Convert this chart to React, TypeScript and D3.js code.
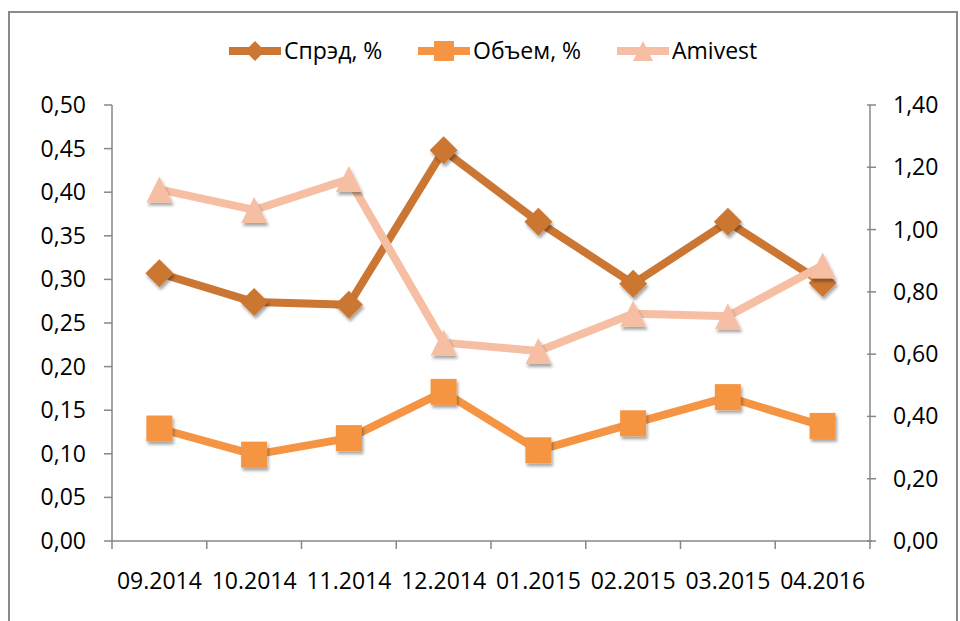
import React, { useEffect, useRef } from 'react'
import * as d3 from 'd3'

const months = ['09.2014', '10.2014', '11.2014', '12.2014', '01.2015', '02.2015', '03.2015', '04.2016']
const spread = [0.307, 0.274, 0.271, 0.448, 0.366, 0.295, 0.366, 0.296]
const volume = [0.129, 0.099, 0.118, 0.171, 0.104, 0.135, 0.165, 0.132]
const amivest = [1.129, 1.063, 1.162, 0.637, 0.61, 0.73, 0.722, 0.885]
const leftTicks = [0, 0.05, 0.1, 0.15, 0.2, 0.25, 0.3, 0.35, 0.4, 0.45, 0.5]
const rightTicks = [0, 0.2, 0.4, 0.6, 0.8, 1.0, 1.2, 1.4]

type Shape = 'diamond' | 'square' | 'triangle'

function markerPath(shape: Shape, s: number): string {
  const h = s / 2
  if (shape === 'diamond') return `M0,${-h}L${h},0L0,${h}L${-h},0Z`
  if (shape === 'square') return `M${-h},${-h}H${h}V${h}H${-h}Z`
  return `M0,${-h}L${h},${h}L${-h},${h}Z`
}

const FONT = '"Open Sans", "Noto Sans", sans-serif'
const FONT_SIZE = '23px'

export default function App() {
  const svgRef = useRef<SVGSVGElement>(null)

  useEffect(() => {
    if (!svgRef.current) return
    const svg = d3.select(svgRef.current)
    svg.selectAll('*').remove()

    const width = 960
    const height = 621
    const left = 112
    const right = 870
    const top = 105
    const bottom = 541
    const axisColor = '#878787'

    const defs = svg.append('defs')
    defs.append('filter')
      .attr('id', 'shadow')
      .attr('x', '-50%').attr('y', '-50%').attr('width', '200%').attr('height', '200%')
      .append('feDropShadow')
      .attr('dx', 1.5).attr('dy', 3).attr('stdDeviation', 1.6)
      .attr('flood-color', '#000').attr('flood-opacity', 0.35)

    // chart border
    svg.append('rect')
      .attr('x', 9).attr('y', 12)
      .attr('width', 948).attr('height', 640)
      .attr('fill', 'white')
      .attr('stroke', '#8a8a8a')
      .attr('stroke-width', 2)

    const x = d3.scaleBand<string>().domain(months).range([left, right])
    const yL = d3.scaleLinear().domain([0, 0.5]).range([bottom, top])
    const yR = d3.scaleLinear().domain([0, 1.4]).range([bottom, top])
    const fmt = (d: number) => d.toFixed(2).replace('.', ',')

    // left axis
    const gL = svg.append('g')
    gL.append('line')
      .attr('x1', left).attr('x2', left).attr('y1', top).attr('y2', bottom)
      .attr('stroke', axisColor).attr('stroke-width', 1.5)
    gL.selectAll('.tk').data(leftTicks).enter().append('line')
      .attr('x1', left - 8).attr('x2', left)
      .attr('y1', d => yL(d)).attr('y2', d => yL(d))
      .attr('stroke', axisColor).attr('stroke-width', 1.5)
    gL.selectAll('text').data(leftTicks).enter().append('text')
      .attr('x', 86).attr('y', d => yL(d))
      .attr('dy', '0.35em')
      .attr('text-anchor', 'end')
      .style('font-family', FONT).style('font-size', FONT_SIZE).attr('fill', '#000')
      .text(d => fmt(d))

    // right axis
    const gR = svg.append('g')
    gR.append('line')
      .attr('x1', right).attr('x2', right).attr('y1', top).attr('y2', bottom)
      .attr('stroke', axisColor).attr('stroke-width', 1.5)
    gR.selectAll('.tk').data(rightTicks).enter().append('line')
      .attr('x1', right - 3).attr('x2', right + 6)
      .attr('y1', d => yR(d)).attr('y2', d => yR(d))
      .attr('stroke', axisColor).attr('stroke-width', 1.5)
    gR.selectAll('text').data(rightTicks).enter().append('text')
      .attr('x', 893).attr('y', d => yR(d))
      .attr('dy', '0.35em')
      .attr('text-anchor', 'start')
      .style('font-family', FONT).style('font-size', FONT_SIZE).attr('fill', '#000')
      .text(d => fmt(d))

    // x axis
    const gX = svg.append('g')
    gX.append('line')
      .attr('x1', left).attr('x2', right + 2).attr('y1', bottom).attr('y2', bottom)
      .attr('stroke', axisColor).attr('stroke-width', 1.5)
    const bounds = months.map(m => x(m) as number).concat([right])
    gX.selectAll('.tk').data(bounds).enter().append('line')
      .attr('x1', d => d).attr('x2', d => d)
      .attr('y1', bottom).attr('y2', bottom + 8)
      .attr('stroke', axisColor).attr('stroke-width', 1.5)
    gX.selectAll('text').data(months).enter().append('text')
      .attr('x', d => (x(d) as number) + x.bandwidth() / 2)
      .attr('y', 581)
      .attr('dy', '0.35em')
      .attr('text-anchor', 'middle')
      .style('font-family', FONT).style('font-size', FONT_SIZE).attr('fill', '#000')
      .text(d => d)

    const series = [
      { name: 'Спрэд, %', values: spread, scale: yL, color: '#CB7733', shape: 'diamond' as Shape, size: 28 },
      { name: 'Объем, %', values: volume, scale: yL, color: '#F59543', shape: 'square' as Shape, size: 26 },
      { name: 'Amivest', values: amivest, scale: yR, color: '#F6BFA3', shape: 'triangle' as Shape, size: 26 }
    ]

    series.forEach(s => {
      const pts = s.values.map((v, i) => [(x(months[i]) as number) + x.bandwidth() / 2, s.scale(v)] as [number, number])
      svg.append('path')
        .datum(pts)
        .attr('fill', 'none')
        .attr('stroke', s.color)
        .attr('stroke-width', 8)
        .attr('stroke-linejoin', 'round')
        .attr('d', d3.line())
      svg.append('g')
        .attr('filter', 'url(#shadow)')
        .selectAll('path')
        .data(pts)
        .enter()
        .append('path')
        .attr('transform', d => `translate(${d[0]},${d[1]})`)
        .attr('d', markerPath(s.shape, s.size))
        .attr('fill', s.color)
    })

    // legend
    const legendX = [229, 418, 617]
    series.forEach((s, i) => {
      const g = svg.append('g').attr('transform', `translate(${legendX[i]},51)`)
      g.append('line')
        .attr('x1', 0).attr('x2', 52).attr('y1', 0).attr('y2', 0)
        .attr('stroke', s.color).attr('stroke-width', 8)
      g.append('path')
        .attr('transform', 'translate(26,0)')
        .attr('d', markerPath(s.shape, 20))
        .attr('fill', s.color)
      g.append('text')
        .attr('x', 55).attr('y', 0).attr('dy', '0.35em')
        .style('font-family', FONT).style('font-size', FONT_SIZE).attr('fill', '#000')
        .text(s.name)
    })

    svg.attr('width', width).attr('height', height)
  }, [])

  return (
    <svg
      ref={svgRef}
      width={960}
      height={621}
      style={{ position: 'absolute', left: 0, top: 0, background: 'white' }}
    />
  )
}
